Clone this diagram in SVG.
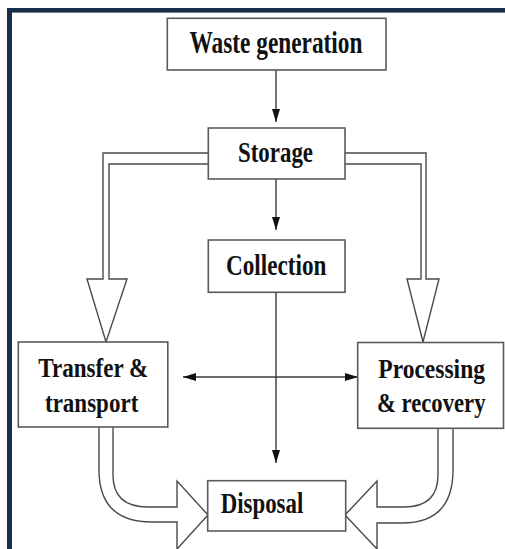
<svg xmlns="http://www.w3.org/2000/svg" width="505" height="549" viewBox="0 0 505 549">
<defs>
<style>
.box{fill:#fff;stroke:#5a5a5a;stroke-width:1.6}
.t{font-family:"Liberation Serif","Times New Roman",serif;font-weight:bold;fill:#111}
.ln{stroke:#3a3a3a;stroke-width:1.4;fill:none}
.pipe{fill:#fff;stroke:#4a4a4a;stroke-width:1.4;stroke-linejoin:miter}
</style>
<marker id="ah" markerUnits="userSpaceOnUse" markerWidth="14" markerHeight="10" viewBox="0 0 14 10" refX="13" refY="5" orient="auto-start-reverse">
<path d="M0,1 L13,5 L0,9 Z" fill="#111"/>
</marker>
</defs>
<rect width="505" height="549" fill="#fff"/>
<rect x="7" y="8" width="498" height="4.6" fill="#1a2f4c"/>
<rect x="7" y="8" width="5" height="541" fill="#1a2f4c"/>

<g id="connectors">
<path class="pipe" d="M208,153 H103 V279 H87 L106,342 L127,279 H109 V164 H208"/>
<path class="pipe" d="M345,153 H426 V279 H439 L423,342 L407,279 H421 V164 H345"/>
<path class="pipe" d="M113,427 V475 Q113,507 148,507 H177 V481 L208,515 L177,549 V522 H152 Q99,522 99,470 V427"/>
<path class="pipe" d="M438,428 V475 Q438,507 404,507 H377 V481 L345,515 L377,549 V523 H402 Q453,523 453,470 V428"/>
<line class="ln" x1="276" y1="70" x2="276" y2="122" marker-end="url(#ah)"/>
<line class="ln" x1="276" y1="179" x2="276" y2="230" marker-end="url(#ah)"/>
<line class="ln" x1="276" y1="292" x2="276" y2="463" marker-end="url(#ah)"/>
<line class="ln" x1="183" y1="377" x2="358" y2="377" marker-start="url(#ah)" marker-end="url(#ah)"/>
</g>

<g id="waste-generation">
<rect class="box" x="167.3" y="18.3" width="218.7" height="51.7"/>
<text class="t" x="189.5" y="52.7" font-size="31" textLength="173" lengthAdjust="spacingAndGlyphs">Waste generation</text>
</g>
<g id="storage">
<rect class="box" x="208.3" y="128" width="136.7" height="51"/>
<text class="t" x="238" y="162" font-size="29" textLength="75" lengthAdjust="spacingAndGlyphs">Storage</text>
</g>
<g id="collection">
<rect class="box" x="208.3" y="240" width="136.7" height="52.3"/>
<text class="t" x="226" y="275" font-size="30" textLength="100.5" lengthAdjust="spacingAndGlyphs">Collection</text>
</g>
<g id="transfer-transport">
<rect class="box" x="18.3" y="342" width="149.5" height="85"/>
<text class="t" x="38.3" y="377" font-size="27" textLength="110" lengthAdjust="spacingAndGlyphs">Transfer &amp;</text>
<text class="t" x="45" y="411.7" font-size="27" textLength="93.3" lengthAdjust="spacingAndGlyphs">transport</text>
</g>
<g id="processing-recovery">
<rect class="box" x="357.7" y="342.5" width="145.8" height="85.8"/>
<text class="t" x="378.3" y="377.7" font-size="27" textLength="106.7" lengthAdjust="spacingAndGlyphs">Processing</text>
<text class="t" x="377" y="411.7" font-size="27" textLength="108.5" lengthAdjust="spacingAndGlyphs">&amp; recovery</text>
</g>
<g id="disposal">
<rect class="box" x="207.7" y="480.7" width="138" height="50.3"/>
<text class="t" x="220.7" y="513.3" font-size="29" textLength="82.6" lengthAdjust="spacingAndGlyphs">Disposal</text>
</g>
</svg>
